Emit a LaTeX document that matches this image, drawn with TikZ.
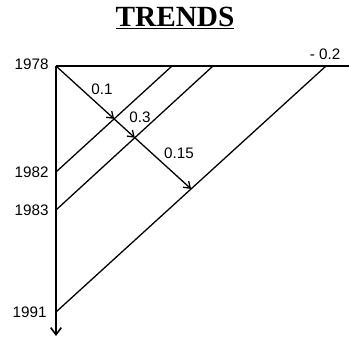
\documentclass[tikz,border=0pt]{standalone}
\usepackage{fontspec}
\setmainfont{Liberation Sans}
\newfontfamily\titlefont{Liberation Serif}
\usetikzlibrary{arrows.meta}

\tikzset{
  yearlabel/.style={anchor=east, font=\fontsize{13}{13}\selectfont, inner sep=1pt},
  ratelabel/.style={font=\fontsize{13}{13}\selectfont, inner sep=1pt},
  trendline/.style={line width=1.1pt},
  flowline/.style={line width=1.1pt, -{Straight Barb[length=5pt,width=7pt]}}
}

\begin{document}
\begin{tikzpicture}[x=0.03cm,y=-0.03cm]
    \useasboundingbox (0,0) rectangle (349,336);

    % title
    \node (title) at (175,18) {\titlefont\bfseries\fontsize{25}{25}\selectfont\underline{TRENDS}};

    % axis points
    \coordinate (o) at (56,66);
    \coordinate (y82) at (56,172);
    \coordinate (y83) at (56,210);
    \coordinate (y91) at (56,312);
    \coordinate (bottom) at (56,336);
    \coordinate (right) at (349,66);

    % top ends of the trend lines
    \coordinate (t82) at (172,66);
    \coordinate (t83) at (213,66);
    \coordinate (t91) at (326,66);

    % axes
    \draw[line width=1.4pt, -{Straight Barb[length=6pt,width=9pt]}] (o) -- (bottom);
    \draw[line width=0.9pt] (o) -- (right);

    % trend lines
    \draw[trendline] (y82) -- (t82);
    \draw[trendline] (y83) -- (t83);
    \draw[trendline] (y91) -- (t91);

    % crossing points
    \coordinate (far) at (256,248);
    \coordinate (a) at (intersection of o--far and y82--t82);
    \coordinate (b) at (intersection of o--far and y83--t83);
    \coordinate (c) at (intersection of o--far and y91--t91);

    \draw[flowline] (o) -- (a);
    \draw[flowline] (a) -- (b);
    \draw[flowline] (b) -- (c);

    % years
    \node[yearlabel] (l78) at (50,64) {1978};
    \node[yearlabel] (l82) at (50,172) {1982};
    \node[yearlabel] (l83) at (50,210) {1983};
    \node[yearlabel] (l91) at (48,312) {1991};

    % rates
    \node[ratelabel] (r1) at (102,89) {0.1};
    \node[ratelabel] (r3) at (140,117) {0.3};
    \node[ratelabel] (r15) at (179,153) {0.15};
    \node[ratelabel] (r2) at (325,54) {- 0.2};
  \end{tikzpicture}
\end{document}
